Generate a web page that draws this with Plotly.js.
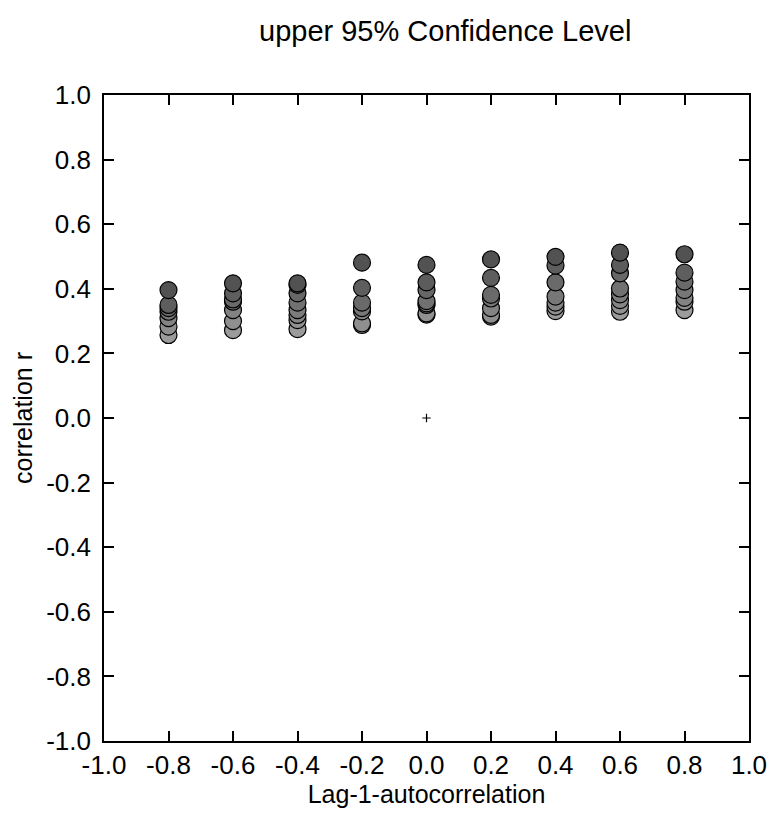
<!DOCTYPE html>
<html>
<head>
<meta charset="utf-8">
<script src="https://cdn.plot.ly/plotly-3.0.1.min.js"></script>
<style>html,body{margin:0;padding:0;background:#fff;}#chart{width:773px;height:814px;}</style>
</head>
<body>
<div id="chart"></div>
<script>
// Lag-1 autocorrelation columns and the upper 95% confidence correlation values (top to bottom)
const lags = [-0.8, -0.6, -0.4, -0.2, 0.0, 0.2, 0.4, 0.6, 0.8];
const rAtM08 = [0.396, 0.350, 0.340, 0.329, 0.309, 0.283, 0.257];
const rAtM06 = [0.417, 0.386, 0.367, 0.360, 0.334, 0.300, 0.272];
const rAtM04 = [0.417, 0.412, 0.386, 0.357, 0.334, 0.319, 0.303, 0.275];
const rAtM02 = [0.481, 0.403, 0.357, 0.340, 0.330, 0.293, 0.288];
const rAt00  = [0.474, 0.420, 0.396, 0.362, 0.355, 0.350, 0.324, 0.320];
const rAtP02 = [0.491, 0.434, 0.381, 0.370, 0.340, 0.319, 0.314];
const rAtP04 = [0.499, 0.472, 0.420, 0.376, 0.357, 0.345, 0.331];
const rAtP06 = [0.512, 0.474, 0.448, 0.401, 0.383, 0.365, 0.347, 0.329];
const rAtP08 = [0.507, 0.450, 0.422, 0.396, 0.372, 0.360, 0.334];
const columns = [rAtM08, rAtM06, rAtM04, rAtM02, rAt00, rAtP02, rAtP04, rAtP06, rAtP08];
const originX = [0];
const originY = [0];
const tickVals = [-1.0, -0.8, -0.6, -0.4, -0.2, 0.0, 0.2, 0.4, 0.6, 0.8, 1.0];
const tickText = ['-1.0', '-0.8', '-0.6', '-0.4', '-0.2', '0.0', '0.2', '0.4', '0.6', '0.8', '1.0'];

const xs = [], ys = [], cols = [];
columns.forEach((vals, i) => {
  const n = vals.length;
  vals.forEach((v, k) => {
    xs.push(lags[i]);
    ys.push(v);
    const t = n > 1 ? k / (n - 1) : 0;
    const g = Math.round(82 + t * 73);
    cols.push(`rgb(${g},${g},${g})`);
  });
});
// draw lighter (lower) points first, darker on top
const order = xs.map((_, i) => i).reverse();

const traces = [
  {
    type: 'scatter', mode: 'markers',
    x: order.map(i => xs[i]), y: order.map(i => ys[i]),
    marker: {size: 17, color: order.map(i => cols[i]), line: {color: '#000', width: 1.2}},
    hoverinfo: 'x+y', showlegend: false
  },
  {
    type: 'scatter', mode: 'markers', x: originX, y: originY,
    marker: {symbol: 'cross-thin', size: 6, line: {color: '#000', width: 1.2}},
    showlegend: false
  }
];

const FONT = 'Liberation Sans, Arial, Helvetica, sans-serif';
const axisCommon = {
  showgrid: false, zeroline: false, showline: true, linecolor: '#000', linewidth: 1.6,
  mirror: 'ticks', ticks: 'inside', ticklen: 10, tickwidth: 1.5, tickcolor: '#000',
  tickfont: {family: FONT, size: 26, color: '#000'},
  tickmode: 'array', tickvals: tickVals, ticktext: tickText
};

const layout = {
  width: 773, height: 814,
  margin: {l: 104, r: 24, t: 95, b: 73},
  paper_bgcolor: '#fff', plot_bgcolor: '#fff',
  font: {family: FONT, color: '#000'},
  title: {text: 'upper 95% Confidence Level', font: {family: FONT, size: 29, color: '#000'},
          x: 0.576, xanchor: 'center', y: 0.962, yanchor: 'middle'},
  xaxis: Object.assign({}, axisCommon, {range: [-1, 1],
          title: {text: 'Lag-1-autocorrelation', font: {family: FONT, size: 25}, standoff: 2}}),
  yaxis: Object.assign({}, axisCommon, {range: [-1, 1], ticklabelstandoff: 6,
          title: {text: 'correlation r', font: {family: FONT, size: 25}, standoff: 6}}),
  showlegend: false
};

Plotly.newPlot('chart', traces, layout, {displayModeBar: false});
</script>
</body>
</html>
